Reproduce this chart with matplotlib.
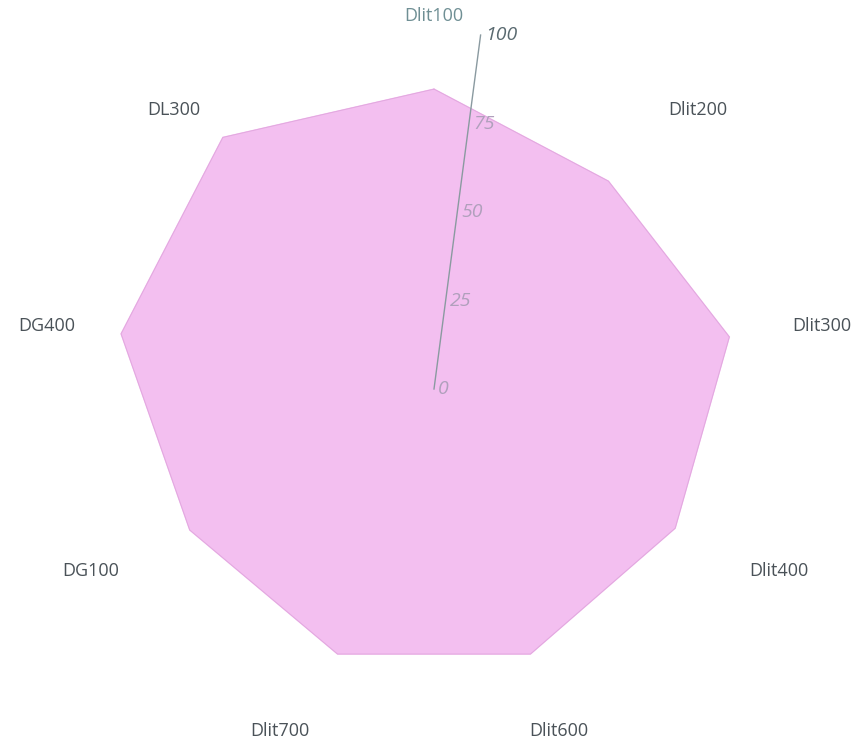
import numpy as np
import matplotlib
matplotlib.use("Agg")
import matplotlib.pyplot as plt

categories = ["Dlit100", "Dlit200", "Dlit300", "Dlit400", "Dlit600",
              "Dlit700", "DG100", "DG400", "DL300"]
values = [84, 76, 84, 78, 79, 79, 79, 89, 92]
radial_ticks = [0, 25, 50, 75, 100]
radial_tick_labels = ["0", "25", "50", "75", "100"]

plt.rcParams['font.family'] = ['Open Sans', 'DejaVu Sans']

W, H = 861, 747
fig = plt.figure(figsize=(W / 100, H / 100), dpi=100)
cx, cy, R = 434, 389, 357
ax = fig.add_axes([(cx - R) / W, (H - cy - R) / H, 2 * R / W, 2 * R / H],
                  projection='polar')
ax.set_theta_offset(np.pi / 2)
ax.set_theta_direction(-1)
ax.set_ylim(0, 100)
ax.set_facecolor('none')
ax.grid(False)
ax.spines['polar'].set_visible(False)
ax.set_xticks([])
ax.set_yticks([])

n = len(categories)
angles = np.arange(n) * 2 * np.pi / n
th = np.concatenate([angles, angles[:1]])
rv = np.concatenate([values, values[:1]])
ax.fill(th, rv, color='#f3bff0', zorder=2)
ax.plot(th, rv, color='#e2a8df', lw=0.7, zorder=3)

# radial axis
rad_ang = np.deg2rad(7.5)
ax.plot([rad_ang, rad_ang], [radial_ticks[0], radial_ticks[-1]],
        color='#8a9aa0', lw=1.0, zorder=4, clip_on=False)
for v, lab in zip(radial_ticks, radial_tick_labels):
    col = '#5a6a70' if v == radial_ticks[-1] else '#b0a0bc'
    ax.annotate(lab, xy=(rad_ang, v), xytext=(3, 0), textcoords='offset points',
                ha='left', va='center', fontsize=14, style='italic',
                color=col, zorder=5, annotation_clip=False)

# category labels
label_r = 102
aligns = [('center', 'bottom'), ('left', 'center'), ('left', 'center'),
          ('left', 'center'), ('center', 'center'), ('right', 'center'),
          ('right', 'center'), ('right', 'center'), ('right', 'center')]
colors = ['#6f8f94'] + ['#4a5258'] * (n - 1)
for a, lab, (ha, va), c in zip(angles, categories, aligns, colors):
    ax.text(a, label_r, lab, ha=ha, va=va, fontsize=13, color=c,
            clip_on=False)

fig.savefig('out.png', dpi=100, facecolor='white')
